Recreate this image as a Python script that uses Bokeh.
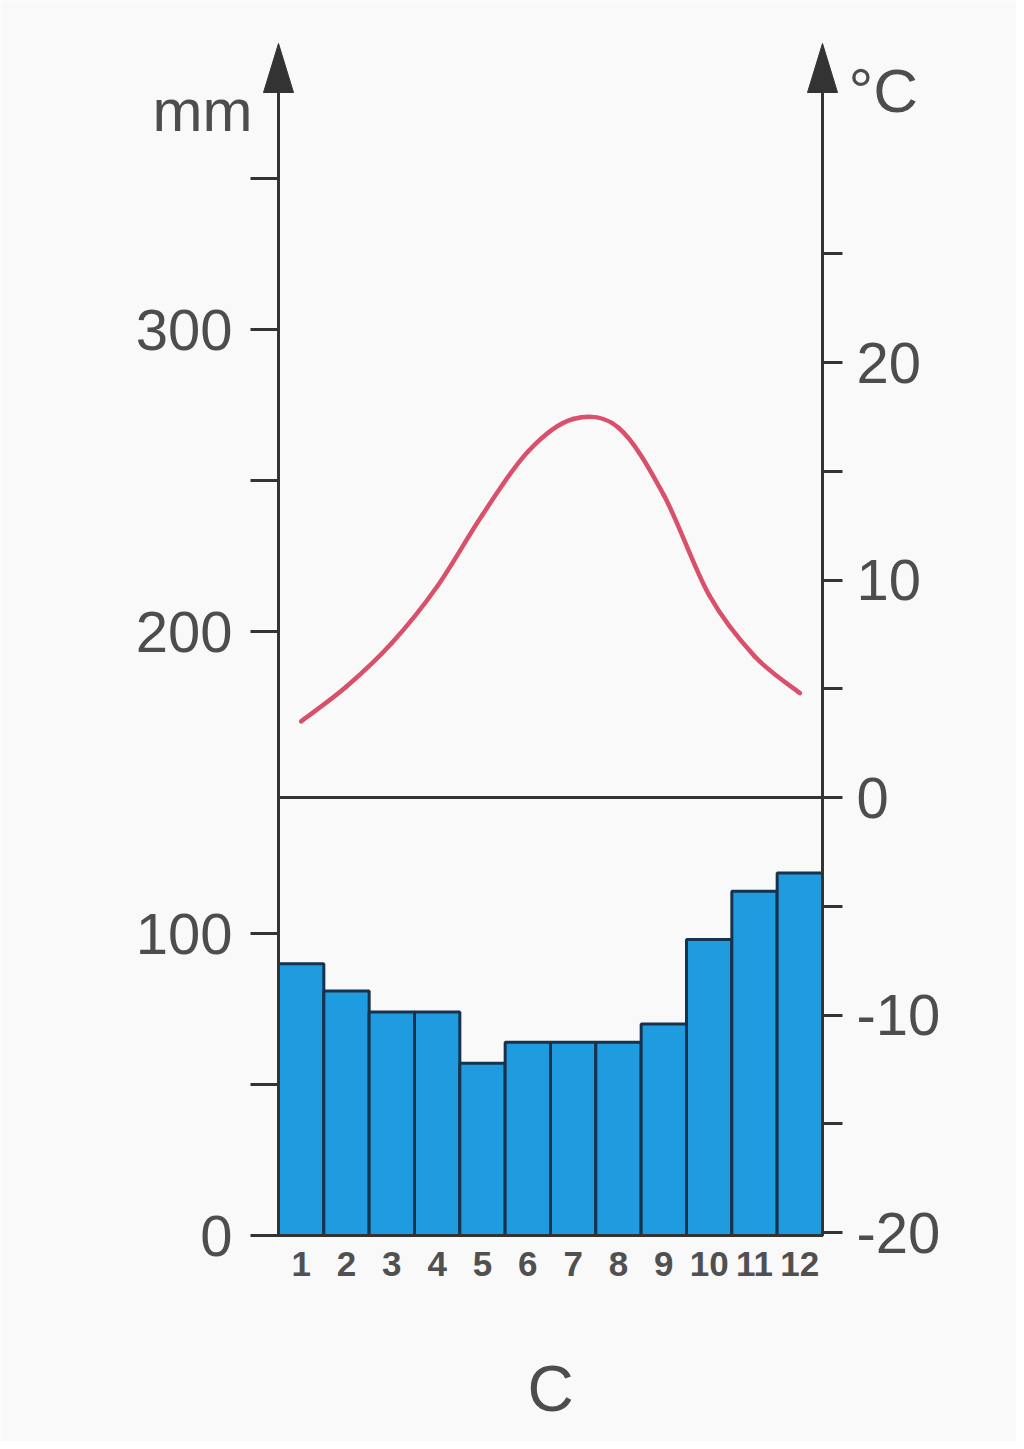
from bokeh.plotting import figure
from bokeh.models import Range1d, LinearAxis, FixedTicker, Label
from bokeh.embed import file_html
from bokeh.resources import INLINE

# ---- data ----
months = [1, 2, 3, 4, 5, 6, 7, 8, 9, 10, 11, 12]
month_labels = [str(m) for m in months]
precip_mm = [90, 81, 74, 74, 57, 64, 64, 64, 70, 98, 114, 120]
temp_c = [3.5, 5.1, 7.1, 9.7, 13.0, 15.9, 17.4, 17.0, 13.9, 9.3, 6.5, 4.8]
mm_ticks = [0, 100, 200, 300]
mm_minor = [50, 250, 350]
c_ticks = [-20, -10, 0, 10, 20]
c_minor = [-15, -5, 5, 15, 25]
FREEZING = 0
station = "C"

# ---- layout / styling constants (pixels) ----
W, H = 1016, 1441
AX_L_PX, AX_R_PX = 278, 822      # left / right axis lines
BASE_PX = 1235                   # 0 mm baseline
MM_PX = 3.02                     # pixels per mm
C0_PX = 797                      # 0 °C line
C_PX = 21.75                     # pixels per °C
TIP_PX, HEAD_BASE_PX, HEAD_HALF_W = 43, 92, 15
MM_LABEL_PX, DEG_LABEL_PX, STATION_PX = 110, 90, 1388   # text baselines

FONT = "Liberation Sans"
TXT = "#4d4d4d"
AX = "#333333"
BG = "#f9f9f9"

bx = (AX_R_PX - AX_L_PX) / len(months)
x_lo = months[0] - 0.5
x_hi = months[-1] + 0.5
x_start = x_lo - AX_L_PX / bx
x_end = x_hi + (W - AX_R_PX) / bx
y_start = -(H - BASE_PX) / MM_PX
y_end = BASE_PX / MM_PX
t_start = -(H - C0_PX) / C_PX
t_end = C0_PX / C_PX

p = figure(width=W, height=H, output_backend="svg", toolbar_location=None,
           x_range=Range1d(x_start, x_end), y_range=Range1d(y_start, y_end),
           min_border=0, min_border_left=0, min_border_right=0,
           min_border_top=0, min_border_bottom=0)
p.background_fill_color = BG
p.border_fill_color = BG
p.outline_line_color = None
p.xgrid.visible = False
p.ygrid.visible = False
p.extra_y_ranges = {"temp": Range1d(t_start, t_end)}

top_mm = (BASE_PX - 60) / MM_PX
top_c = (C0_PX - 60) / C_PX
bot_c = (C0_PX - BASE_PX) / C_PX

# left axis (mm)
ya = p.yaxis[0]
ya.fixed_location = x_lo
ya.bounds = (0, top_mm)
ya.ticker = FixedTicker(ticks=mm_ticks, minor_ticks=mm_minor)
ya.major_tick_out = 28
ya.minor_tick_out = 28
ya.major_label_standoff = 18

# right axis (°C)
ra = LinearAxis(y_range_name="temp",
                ticker=FixedTicker(ticks=c_ticks, minor_ticks=c_minor),
                major_label_overrides={t: str(t) for t in c_ticks})
ra.fixed_location = x_hi
ra.bounds = (bot_c, top_c)
ra.major_tick_out = 20
ra.minor_tick_out = 20
ra.major_label_standoff = 14
p.add_layout(ra, "right")

for ax in (ya, ra):
    ax.major_tick_in = 0
    ax.minor_tick_in = 0
    ax.axis_line_width = 3
    ax.axis_line_color = AX
    ax.major_tick_line_width = 3
    ax.minor_tick_line_width = 3
    ax.major_tick_line_color = AX
    ax.minor_tick_line_color = AX
    ax.major_label_text_font = FONT
    ax.major_label_text_font_size = "58px"
    ax.major_label_text_color = TXT

# bottom axis (months)
xa = p.xaxis[0]
xa.fixed_location = 0
xa.bounds = (x_lo, x_hi)
xa.ticker = FixedTicker(ticks=months)
xa.major_label_overrides = {m: l for m, l in zip(months, month_labels)}
xa.major_tick_out = 0
xa.major_tick_in = 0
xa.minor_tick_out = 0
xa.minor_tick_in = 0
xa.axis_line_width = 3
xa.axis_line_color = AX
xa.major_label_text_font = FONT
xa.major_label_text_font_size = "35px"
xa.major_label_text_font_style = "bold"
xa.major_label_text_color = "#505050"
xa.major_label_standoff = 16

# precipitation bars
p.vbar(x=months, top=precip_mm, width=1, bottom=0,
       fill_color="#1f9be0", line_color="#17324d", line_width=3)

# 0 °C line between the two axes
p.segment(x0=[x_lo], x1=[x_hi], y0=[FREEZING], y1=[FREEZING],
          y_range_name="temp", line_color=AX, line_width=3)

# smooth temperature curve (Catmull-Rom through the monthly values, drawn as Bezier segments)
n = len(months)
x0, y0, x1, y1, cx0, cy0, cx1, cy1 = [], [], [], [], [], [], [], []
for i in range(n - 1):
    im = max(i - 1, 0)
    ip2 = min(i + 2, n - 1)
    x0.append(months[i]); y0.append(temp_c[i])
    x1.append(months[i + 1]); y1.append(temp_c[i + 1])
    cx0.append(months[i] + (months[i + 1] - months[im]) / 6)
    cy0.append(temp_c[i] + (temp_c[i + 1] - temp_c[im]) / 6)
    cx1.append(months[i + 1] - (months[ip2] - months[i]) / 6)
    cy1.append(temp_c[i + 1] - (temp_c[ip2] - temp_c[i]) / 6)
p.bezier(x0=x0, y0=y0, x1=x1, y1=y1, cx0=cx0, cy0=cy0, cx1=cx1, cy1=cy1,
         y_range_name="temp", line_color="#d9506a", line_width=4.5, line_cap="round")

# arrow heads on top of both vertical axes
tip_mm = (BASE_PX - TIP_PX) / MM_PX
hb_mm = (BASE_PX - HEAD_BASE_PX) / MM_PX
hw = HEAD_HALF_W / bx
p.patches(xs=[[x - hw, x, x + hw] for x in (x_lo, x_hi)],
          ys=[[hb_mm, tip_mm, hb_mm] for _ in range(2)],
          fill_color=AX, line_color=AX, line_width=1)

# unit labels
p.add_layout(Label(x=x_lo, y=(BASE_PX - MM_LABEL_PX) / MM_PX, text="mm", x_offset=-26,
                   text_align="right", text_baseline="alphabetic",
                   text_font=FONT, text_font_size="60px", text_color=TXT))
p.add_layout(Label(x=x_hi, y=(C0_PX - DEG_LABEL_PX) / C_PX, y_range_name="temp", text="°C",
                   x_offset=26, text_align="left", text_baseline="alphabetic",
                   text_font=FONT, text_font_size="62px", text_color=TXT))
p.add_layout(Label(x=(x_lo + x_hi) / 2, y=(BASE_PX - STATION_PX) / MM_PX, text=station,
                   text_align="center", text_baseline="alphabetic",
                   text_font=FONT, text_font_size="64px", text_color=TXT))

open("out.html", "w").write(file_html(p, INLINE))
